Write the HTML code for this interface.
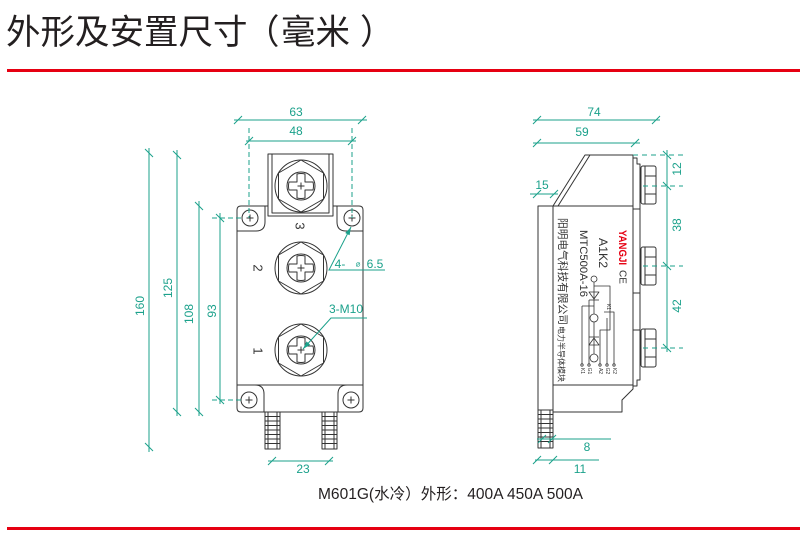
<!DOCTYPE html>
<html><head><meta charset="utf-8"><style>
html,body{margin:0;padding:0;background:#fff;}
svg{display:block;}
</style></head><body>
<svg width="800" height="548" viewBox="0 0 800 548" xmlns="http://www.w3.org/2000/svg">
<rect width="800" height="548" fill="#fff"/>
<!-- title -->
<g font-family="'Liberation Sans','Noto Sans CJK SC',sans-serif" font-size="34.5" fill="#231f20">
 <text x="6" y="44">外形及安置尺寸</text>
 <text x="245" y="44">（</text>
 <text x="281" y="44">毫米</text>
 <text x="360" y="44">）</text>
</g>
<rect x="7" y="69" width="793" height="3" fill="#e60012"/>
<rect x="7" y="527" width="793" height="3" fill="#e60012"/>
<text x="318" y="499" font-family="'Liberation Sans','Noto Sans CJK SC',sans-serif" font-size="15.4" fill="#231f20" textLength="265" lengthAdjust="spacingAndGlyphs">M601G(水冷）外形：400A 450A 500A</text>

<!-- ============ FRONT VIEW ============ -->
<g stroke="#333" stroke-width="1" fill="none" stroke-linejoin="round">
 <path d="M241,206 H359 Q363,206 363,210 V408 Q363,412 359,412 H241 Q237,412 237,408 V210 Q237,206 241,206 Z" fill="#fff"/>
 <path d="M265,206 V222 Q265,231 256,231 H237"/>
 <path d="M337,206 V222 Q337,231 346,231 H363"/>
 <path d="M237,385 H363"/>
 <path d="M255,385 Q264,385 264,394 V412"/>
 <path d="M347,385 Q338,385 338,394 V412"/>
 <!-- block for terminal 3 -->
 <rect x="268" y="154" width="65" height="62" fill="#fff"/>
 <path d="M272,154 V213 H329 V154"/>
 <!-- holes -->
 <circle cx="250" cy="218" r="8"/><path d="M246.5,218 H253.5 M250,214.5 V221.5"/>
 <circle cx="352" cy="218" r="8"/><path d="M348.5,218 H355.5 M352,214.5 V221.5"/>
 <circle cx="249" cy="400" r="8"/><path d="M245.5,400 H252.5 M249,396.5 V403.5"/>
 <circle cx="351" cy="400" r="8"/><path d="M347.5,400 H354.5 M351,396.5 V403.5"/>
 <!-- terminals -->
 <g transform="translate(301,186)">
  <circle r="26"/><polygon points="0,-26 22.5,-13 22.5,13 0,26 -22.5,13 -22.5,-13"/>
  <circle r="14"/>
  <path d="M-4,-12 Q0,-13 4,-12 V-4 H12 Q13,0 12,4 H4 V12 Q0,13 -4,12 V4 H-12 Q-13,0 -12,-4 H-4 Z"/>
  <path d="M-3.5,0 H3.5 M0,-3.5 V3.5"/>
 </g>
 <g transform="translate(301,268)">
  <circle r="26"/><polygon points="0,-26 22.5,-13 22.5,13 0,26 -22.5,13 -22.5,-13"/>
  <circle r="14"/>
  <path d="M-4,-12 Q0,-13 4,-12 V-4 H12 Q13,0 12,4 H4 V12 Q0,13 -4,12 V4 H-12 Q-13,0 -12,-4 H-4 Z"/>
  <path d="M-3.5,0 H3.5 M0,-3.5 V3.5"/>
 </g>
 <g transform="translate(301,350)">
  <circle r="26"/><polygon points="0,-26 22.5,-13 22.5,13 0,26 -22.5,13 -22.5,-13"/>
  <circle r="14"/>
  <path d="M-4,-12 Q0,-13 4,-12 V-4 H12 Q13,0 12,4 H4 V12 Q0,13 -4,12 V4 H-12 Q-13,0 -12,-4 H-4 Z"/>
  <path d="M-3.5,0 H3.5 M0,-3.5 V3.5"/>
 </g>
 <!-- barbs front -->
 <rect x="265" y="412" width="15" height="37"/>
 <path d="M268,412 V449 M277,412 V449 M265,416.5 H280 M265,421 H280 M265,425.5 H280 M265,430 H280 M265,434.5 H280 M265,439 H280 M265,443.5 H280"/>
 <rect x="322" y="412" width="15" height="37"/>
 <path d="M325,412 V449 M334,412 V449 M322,416.5 H337 M322,421 H337 M322,425.5 H337 M322,430 H337 M322,434.5 H337 M322,439 H337 M322,443.5 H337"/>
</g>
<g font-family="'Liberation Sans',sans-serif" font-size="13" fill="#333" text-anchor="middle" dominant-baseline="central">
 <text transform="translate(300,226) rotate(90)">3</text>
 <text transform="translate(258,268) rotate(90)">2</text>
 <text transform="translate(258,351) rotate(90)">1</text>
</g>

<!-- front dims -->
<g stroke="#1ba18b" stroke-width="1" fill="none">
 <path d="M234,120 H367 M234,124 L242,116 M358,124 L366,116"/>
 <path d="M246,141 H356 M245,145 L253,137 M348,145 L356,137"/>
 <path d="M249,128 V218 M352,128 V218" stroke-dasharray="5,3"/>
 <path d="M212,218 H242 M212,400 H241" stroke-dasharray="5,3"/>
 <path d="M149,148 V452 M145,149 L153,157 M145,443 L153,451"/>
 <path d="M177,150 V416 M173,151 L181,159 M173,408 L181,416"/>
 <path d="M199,201 V416 M195,202 L203,210 M195,408 L203,416"/>
 <path d="M220,213 V404 M216,214 L224,222 M216,396 L224,404"/>
 <path d="M268,461 H333 M268,465 L276,457 M325,465 L333,457"/>
 <path d="M385,270 H329 L351,227"/>
 <path d="M367,318 H331 L303,349"/>
</g>
<g fill="#1ba18b">
 <polygon points="351,227 349.6,235.2 345.2,233"/>
 <polygon points="303,349 310.2,344.8 306.5,341.4"/>
</g>
<g font-family="'Liberation Sans',sans-serif" font-size="12" fill="#1ba18b" text-anchor="middle" dominant-baseline="central">
 <text x="296" y="112">63</text>
 <text x="296" y="131">48</text>
 <text x="303" y="469">23</text>
 <text transform="translate(140,306) rotate(-90)">160</text>
 <text transform="translate(168,288) rotate(-90)">125</text>
 <text transform="translate(189,314) rotate(-90)">108</text>
 <text transform="translate(212,311) rotate(-90)">93</text>
 <text x="346" y="309">3-M10</text>
 <text x="340" y="264">4-</text>
 <text x="358" y="264" font-size="8" font-family="'DejaVu Sans',sans-serif">⌀</text>
 <text x="375" y="264">6.5</text>
</g>

<!-- ============ SIDE VIEW ============ -->
<g stroke="#333" stroke-width="1" fill="none" stroke-linejoin="round">
 <path d="M553,206 L585,155 H633 V389 L622,400 V412 H553 Z" fill="#fff"/>
 <path d="M590,155 L558,206"/>
 <path d="M538,206 H633"/>
 <path d="M553,385 H633"/>
 <rect x="538" y="206" width="15" height="204"/>
 <!-- plate -->
 <path d="M633,158 H637 V164 H640 V380 H637 V386 H633"/>
 <path d="M633,209 H640 M633,293 H640 M633,330 H640"/>
 <!-- nuts -->
 <rect x="641" y="166" width="15" height="38" rx="2" fill="#fff"/>
 <path d="M645,166 V204 M645,176 H656 M645,194 H656"/>
 <rect x="641" y="247" width="15" height="38" rx="2" fill="#fff"/>
 <path d="M645,247 V285 M645,257 H656 M645,275 H656"/>
 <rect x="641" y="329" width="15" height="38" rx="2" fill="#fff"/>
 <path d="M645,329 V367 M645,339 H656 M645,357 H656"/>
 <!-- barb -->
 <rect x="538" y="410" width="15" height="38"/>
 <path d="M541,410 V448 M550,410 V448 M538,414.5 H553 M538,419 H553 M538,423.5 H553 M538,428 H553 M538,432.5 H553 M538,437 H553 M538,441.5 H553"/>
 <!-- circuit -->
 <g stroke-width="0.8">
  <circle cx="594" cy="279" r="3"/>
  <path d="M594,282 V314 M594,322 V354"/>
  <polygon points="589,292 599,292 594,299"/><path d="M589,300 H599"/>
  <circle cx="594" cy="318" r="4"/>
  <polygon points="589,345 599,345 594,338"/><path d="M589,337 H599"/>
  <circle cx="594" cy="358" r="4"/>
  <path d="M594,286 H610 V330 H600 V364"/>
  <path d="M604,312 H614 V364 M607,318 V364"/>
  <path d="M582,306 H594 M582,306 V364 M589,300 V364"/>
  <circle cx="582" cy="365" r="1.2"/><circle cx="589" cy="365" r="1.2"/><circle cx="600" cy="365" r="1.2"/><circle cx="607" cy="365" r="1.2"/><circle cx="614" cy="365" r="1.2"/>
 </g>
</g>
<g font-family="'Liberation Sans','Noto Sans CJK SC',sans-serif" text-anchor="middle" dominant-baseline="central">
 <text transform="translate(562,271.5) rotate(90)" font-size="10.7" fill="#333" textLength="107" lengthAdjust="spacingAndGlyphs">阳明电气科技有限公司</text>
 <text transform="translate(561,354) rotate(90)" font-size="8" fill="#333" textLength="56" lengthAdjust="spacingAndGlyphs">电力半导体模块</text>
 <text transform="translate(583,263.5) rotate(90)" font-size="11.3" fill="#333" textLength="67" lengthAdjust="spacingAndGlyphs">MTC500A-16</text>
 <text transform="translate(603,253) rotate(90)" font-size="12" fill="#333" textLength="30" lengthAdjust="spacingAndGlyphs">A1K2</text>
 <text transform="translate(622,247.5) rotate(90)" font-size="11" font-weight="bold" fill="#e60012" textLength="35" lengthAdjust="spacingAndGlyphs">YANGJI</text>
 <text transform="translate(622,277) rotate(90)" font-size="10" fill="#333">CE</text>
 <text transform="translate(608,307) rotate(90)" font-size="5" fill="#333">K1</text>
 <g font-size="5" fill="#333">
  <text transform="translate(582,371) rotate(90)">K1</text>
  <text transform="translate(589,371) rotate(90)">G1</text>
  <text transform="translate(600,371) rotate(90)">A2</text>
  <text transform="translate(607,371) rotate(90)">G2</text>
  <text transform="translate(614,371) rotate(90)">K2</text>
 </g>
</g>

<!-- side dims -->
<g stroke="#1ba18b" stroke-width="1" fill="none">
 <path d="M533,120 H660 M533,124 L541,116 M652,124 L660,116"/>
 <path d="M533,143 H640 M533,147 L541,139 M631,147 L639,139"/>
 <path d="M530,194 H558 M533,198 L541,190 M550,198 L558,190"/>
 <path d="M537,439 H611 M538,443 L546,435 M548,443 L556,435"/>
 <path d="M535,460 H599 M533,464 L541,456 M549,464 L557,456"/>
 <path d="M633,155 H683 M643,186 H683 M643,266 H683 M643,348 H683" stroke-dasharray="5,4"/>
 <path d="M667,150 V352 M663,151 L671,159 M663,182 L671,190 M663,262 L671,270 M663,344 L671,352"/>
</g>
<g font-family="'Liberation Sans',sans-serif" font-size="12" fill="#1ba18b" text-anchor="middle" dominant-baseline="central">
 <text x="594" y="112">74</text>
 <text x="582" y="132">59</text>
 <text x="542" y="185">15</text>
 <text x="587" y="447">8</text>
 <text x="580" y="469">11</text>
 <text transform="translate(677,169) rotate(-90)">12</text>
 <text transform="translate(677,225) rotate(-90)">38</text>
 <text transform="translate(677,306) rotate(-90)">42</text>
</g>
</svg>
</body></html>
